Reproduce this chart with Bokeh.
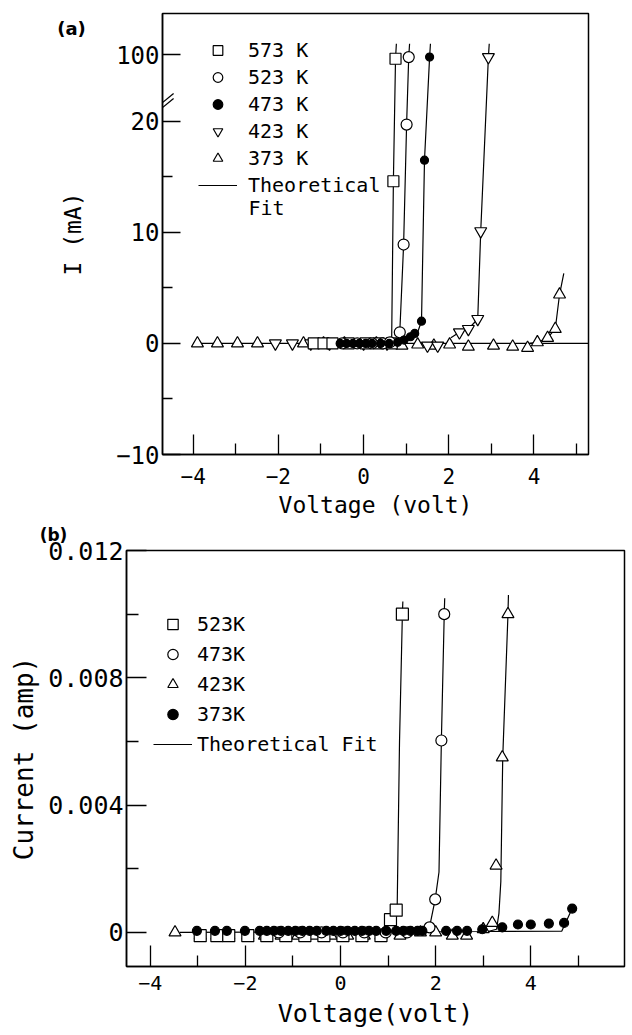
from bokeh.plotting import figure
from bokeh.models import (FixedTicker, CustomJSTickFormatter, Legend, LegendItem,
                          Label, Range1d, Arrow)
from bokeh.embed import file_html
from bokeh.resources import INLINE

MONO = "DejaVu Sans Mono"

# ---------------- panel (a): voltage (V) vs current (mA) ----------------
a_labels = ["573 K", "523 K", "473 K", "423 K", "373 K"]

a573_v = [-1.17, -0.94, -0.73, -0.35, 0.05, 0.35, 0.66, 0.70, 0.75]
a573_i = [0, 0, 0, 0, 0, 0, 0, 14.6, 95]

a523_v = [-0.50, -0.15, 0.20, 0.45, 0.62, 0.85, 0.94, 1.01, 1.06]
a523_i = [0, 0, 0, 0, 0.1, 1.0, 8.9, 19.7, 97]

a473_v = [-0.55, -0.40, -0.25, -0.10, 0.05, 0.20, 0.40, 0.60, 0.80, 0.95, 1.10, 1.20, 1.36, 1.43, 1.55]
a473_i = [0, 0, 0, 0, 0, 0, 0, 0, 0.1, 0.3, 0.6, 0.9, 2.0, 16.5, 97]

a423_v = [-2.07, -1.67, -1.24, -0.80, 0.00, 0.55, 1.50, 1.74, 2.25, 2.46, 2.68, 2.75, 2.93]
a423_i = [0, 0, 0, 0, 0, 0, -0.2, -0.2, 1.0, 1.3, 2.2, 10.1, 97]

a373_v = [-3.90, -3.43, -2.96, -2.49, -1.41, -0.94, -0.45, 0.30, 0.90, 1.27, 1.65,
          2.02, 2.46, 3.05, 3.50, 3.85, 4.08, 4.32, 4.50, 4.60]
a373_i = [0, 0, 0, 0, 0, 0, 0, 0, -0.2, -0.1, -0.2, -0.1, -0.3, -0.2, -0.3, -0.4,
          0.1, 0.5, 1.3, 4.4]

# theoretical fits, panel (a)
afit573_v = [0.62, 0.66, 0.70, 0.75, 0.77]
afit573_i = [0, 0.5, 14.6, 95, 113]
afit523_v = [0.75, 0.85, 0.94, 1.01, 1.06, 1.08]
afit523_i = [0, 1.0, 8.9, 19.7, 97, 113]
afit473_v = [1.10, 1.25, 1.36, 1.43, 1.55, 1.57]
afit473_i = [0.3, 0.8, 2.0, 16.5, 97, 113]
afit423_v = [2.05, 2.25, 2.46, 2.68, 2.75, 2.93, 2.95]
afit423_i = [0.5, 1.0, 1.3, 2.2, 10.1, 97, 113]
afit373_v = [3.90, 4.10, 4.32, 4.50, 4.60, 4.70]
afit373_i = [0, 0.1, 0.5, 1.3, 4.4, 6.3]
afitbase_v = [-4.0, 5.3]
afitbase_i = [0, 0]

a_yticks = [-10, 0, 10, 20]
a_yminor = [-5, 5, 15]
a_break_low = 20      # linear axis up to 20 mA, then broken
a_break_tick = 100    # value shown above the break
a_break_scale = 0.075

a_xticks = [-4, -2, 0, 2, 4]
a_xminor = [-3, -1, 1, 3, 5]

# ---------------- panel (b): voltage (V) vs current (A) ----------------
b_labels = ["523K", "473K", "423K", "373K"]

b523_v = [-2.95, -2.60, -2.35, -1.95, -1.55, -1.15, -0.75, -0.35, 0.05, 0.45, 0.85, 1.05, 1.17, 1.30]
b523_i = [-0.0001] * 11 + [0.0004, 0.0007, 0.0100]

b473_v = [-1.30, -0.85, -0.40, 0.05, 0.50, 0.95, 1.40, 1.87, 1.99, 2.12, 2.18]
b473_i = [0, 0, 0, 0, 0, 0, 0, 0.00016, 0.00104, 0.00603, 0.0100]

b423_v = [-3.48, -2.95, -2.60, -2.35, -1.95, -1.60, -1.25, -0.90, -0.55, -0.20, 0.15, 0.50,
          0.85, 1.25, 1.68, 2.00, 2.35, 2.65, 3.00, 3.19, 3.27, 3.40, 3.52]
b423_i = [0, -0.0001, -0.0001, -0.0001, -0.0001, -0.0001, -0.0001, -0.0001, -0.0001, -0.0001,
          -0.0001, -0.0001, -0.0001, -0.0001, 0.0, 0.0, -0.0001, -0.0001, 0.0001, 0.0003,
          0.0021, 0.0055, 0.0100]

b373_v = [-3.02, -2.64, -2.39, -2.01, -1.70, -1.55, -1.40, -1.25, -1.10, -0.95, -0.80, -0.65,
          -0.50, -0.30, -0.15, 0.00, 0.15, 0.30, 0.45, 0.60, 0.75, 0.96, 1.17, 1.32, 1.47,
          1.62, 1.72, 2.22, 2.45, 2.66, 2.98, 3.40, 3.73, 4.00, 4.38, 4.70, 4.87]
b373_i = [0.00005] * 30 + [0.0001, 0.00016, 0.00025, 0.00025, 0.00028, 0.0003, 0.00075]

bfit523_v = [0.90, 1.15, 1.19, 1.24, 1.30, 1.31]
bfit523_i = [0.0, 0.0001, 0.0007, 0.0060, 0.0100, 0.0104]
bfit473_v = [1.70, 1.87, 1.99, 2.07, 2.12, 2.18, 2.19]
bfit473_i = [0.0, 0.00016, 0.00104, 0.0019, 0.00603, 0.0100, 0.0105]
bfit423_v = [-3.38, 3.10, 3.28, 3.33, 3.37, 3.41, 3.52, 3.53]
bfit423_i = [0.0, 0.00003, 0.0001, 0.0006, 0.0016, 0.0055, 0.0100, 0.0106]
bfit373_v = [3.00, 4.65, 4.87]
bfit373_i = [0.00003, 0.00004, 0.00075]

b_yticks = [0, 0.004, 0.008, 0.012]
b_yminor = [0.002, 0.006, 0.010]
b_xticks = [-4, -2, 0, 2, 4, 6]
b_xminor = [-3, -1, 1, 3, 5]


def brk(vals):
    return [v if v <= a_break_low else a_break_low + (v - a_break_low) * a_break_scale for v in vals]


def style(p, tick_font, xtick_font, title_font_x, title_font_y):
    p.xgrid.visible = False
    p.ygrid.visible = False
    p.outline_line_color = "black"
    p.outline_line_width = 1.5
    p.background_fill_color = "white"
    p.border_fill_color = "white"
    for ax in (p.xaxis[0], p.yaxis[0]):
        ax.axis_line_width = 1.5
        ax.axis_line_color = "black"
        ax.major_tick_line_width = 1.3
        ax.minor_tick_line_width = 1.3
        ax.major_tick_line_color = "black"
        ax.minor_tick_line_color = "black"
        ax.major_tick_out = 0
        ax.minor_tick_out = 0
        ax.major_label_text_font = MONO
        ax.major_label_text_color = "black"
        ax.axis_label_text_font = MONO
        ax.axis_label_text_font_style = "normal"
        ax.axis_label_text_color = "black"
    p.yaxis[0].major_label_text_font_size = tick_font
    p.xaxis[0].major_label_text_font_size = xtick_font
    p.xaxis[0].axis_label_text_font_size = title_font_x
    p.yaxis[0].axis_label_text_font_size = title_font_y


neg_code = "return tick < 0 ? '\u2212' + (-tick) : '' + tick;"

# ================= figure (a) =================
pa = figure(frame_width=426, frame_height=441,
            min_border_left=162, min_border_right=44, min_border_top=13, min_border_bottom=70,
            x_range=Range1d(-4.72, 5.28), y_range=Range1d(-10, 29.7),
            title_location=None, output_backend="svg", toolbar_location=None)
style(pa, "24px", "21px", "23px", "23px")
pa.xaxis[0].ticker = FixedTicker(ticks=a_xticks, minor_ticks=a_xminor)
pa.yaxis[0].ticker = FixedTicker(ticks=a_yticks + brk([a_break_tick]), minor_ticks=a_yminor)
pa.xaxis[0].formatter = CustomJSTickFormatter(code=neg_code)
pa.yaxis[0].formatter = CustomJSTickFormatter(
    code="if (tick > %g) { return '%d'; } " % (a_break_low + 0.5, a_break_tick) + neg_code)
pa.xaxis[0].major_tick_in = 20
pa.xaxis[0].minor_tick_in = 11
pa.yaxis[0].major_tick_in = 18
pa.yaxis[0].minor_tick_in = 10
pa.xaxis[0].major_label_standoff = 13
pa.yaxis[0].major_label_standoff = 3
pa.xaxis[0].axis_label = "Voltage (volt)"
pa.xaxis[0].axis_label_standoff = 5
pa.yaxis[0].axis_label = "I (mA)"
pa.yaxis[0].axis_label_standoff = 27

LW = 1.2
rb = pa.line(afitbase_v, brk(afitbase_i), line_color="black", line_width=LW)
for fv, fi in [(afit573_v, afit573_i), (afit523_v, afit523_i), (afit473_v, afit473_i),
               (afit423_v, afit423_i), (afit373_v, afit373_i)]:
    pa.line(fv, brk(fi), line_color="black", line_width=LW)

ra373 = pa.scatter(a373_v, brk(a373_i), marker="triangle", size=12, line_color="black",
                   fill_color="white", line_width=LW)
ra423 = pa.scatter(a423_v, brk(a423_i), marker="inverted_triangle", size=12, line_color="black",
                   fill_color="white", line_width=LW)
ra573 = pa.scatter(a573_v, brk(a573_i), marker="square", size=11, line_color="black",
                   fill_color="white", line_width=LW)
ra523 = pa.scatter(a523_v, brk(a523_i), marker="circle", size=11, line_color="black",
                   fill_color="white", line_width=LW)
ra473 = pa.scatter(a473_v, brk(a473_i), marker="circle", size=8, line_color="black",
                   fill_color="black", line_width=LW)

leg_a = Legend(items=[LegendItem(label=a_labels[0], renderers=[ra573]),
                      LegendItem(label=a_labels[1], renderers=[ra523]),
                      LegendItem(label=a_labels[2], renderers=[ra473]),
                      LegendItem(label=a_labels[3], renderers=[ra423]),
                      LegendItem(label=a_labels[4], renderers=[ra373]),
                      LegendItem(label="Theoretical", renderers=[rb])],
               location=(36, 257), glyph_width=39, glyph_height=24, label_height=24,
               spacing=3, padding=0, margin=0, label_standoff=11,
               border_line_alpha=0, background_fill_alpha=0,
               label_text_font=MONO, label_text_font_size="20px", label_text_color="black")
pa.add_layout(leg_a)
pa.add_layout(Label(x=86, y=247, x_units="screen", y_units="screen", text="Fit",
                    text_font=MONO, text_font_size="20px", text_baseline="middle",
                    text_align="left", text_color="black"))

# panel tag and axis-break marks sit in the left side panel (outside the y axis)
tag_a = Label(x=43, y=426, x_units="screen", y_units="screen", text="(a)",
              text_font="DejaVu Sans", text_font_style="bold", text_font_size="18px",
              text_baseline="middle", text_align="center", text_color="black")
breaks = [Arrow(end=None, x_start=-4.84, y_start=21.3 + dy, x_end=-4.46, y_end=22.5 + dy,
                line_color="black", line_width=1.3) for dy in (0.0, -0.45)]
pa.left = list(pa.left) + [tag_a] + breaks

# ================= figure (b) =================
pb = figure(frame_width=498, frame_height=416,
            min_border_left=126, min_border_right=8, min_border_top=26, min_border_bottom=67,
            x_range=Range1d(-4.5, 5.97), y_range=Range1d(-0.00107, 0.012),
            title_location=None, output_backend="svg", toolbar_location=None)
style(pb, "25px", "20px", "25px", "26px")
pb.xaxis[0].ticker = FixedTicker(ticks=b_xticks, minor_ticks=b_xminor)
pb.yaxis[0].ticker = FixedTicker(ticks=b_yticks, minor_ticks=b_yminor)
pb.xaxis[0].formatter = CustomJSTickFormatter(code=neg_code)
pb.yaxis[0].formatter = CustomJSTickFormatter(code="return tick == 0 ? '0' : tick.toFixed(3);")
pb.xaxis[0].major_tick_in = 21
pb.xaxis[0].minor_tick_in = 11
pb.yaxis[0].major_tick_in = 20
pb.yaxis[0].minor_tick_in = 12
pb.xaxis[0].major_label_standoff = 9
pb.yaxis[0].major_label_standoff = 3
pb.xaxis[0].axis_label = "Voltage(volt)"
pb.xaxis[0].axis_label_standoff = 6
pb.yaxis[0].axis_label = "Current (amp)"
pb.yaxis[0].axis_label_standoff = 6

fits_b = []
for fv, fi in [(bfit423_v, bfit423_i), (bfit373_v, bfit373_i), (bfit523_v, bfit523_i),
               (bfit473_v, bfit473_i)]:
    fits_b.append(pb.line(fv, fi, line_color="black", line_width=LW))

rb423 = pb.scatter(b423_v, b423_i, marker="triangle", size=12, line_color="black",
                   fill_color="white", line_width=LW)
rb523 = pb.scatter(b523_v, b523_i, marker="square", size=12, line_color="black",
                   fill_color="white", line_width=LW)
rb473 = pb.scatter(b473_v, b473_i, marker="circle", size=11, line_color="black",
                   fill_color="white", line_width=LW)
rb373 = pb.scatter(b373_v, b373_i, marker="circle", size=9, line_color="black",
                   fill_color="black", line_width=LW)

leg_b = Legend(items=[LegendItem(label=b_labels[0], renderers=[rb523]),
                      LegendItem(label=b_labels[1], renderers=[rb473]),
                      LegendItem(label=b_labels[2], renderers=[rb423]),
                      LegendItem(label=b_labels[3], renderers=[rb373]),
                      LegendItem(label="Theoretical Fit", renderers=[fits_b[0]])],
               location=(27, 209), glyph_width=39, glyph_height=26, label_height=26,
               spacing=4, padding=0, margin=0, label_standoff=5,
               border_line_alpha=0, background_fill_alpha=0,
               label_text_font=MONO, label_text_font_size="20px", label_text_color="black")
pb.add_layout(leg_b)
tag_b = Label(x=-73, y=16, x_units="screen", y_units="screen", text="(b)",
              text_font="DejaVu Sans", text_font_style="bold", text_font_size="17px",
              text_baseline="middle", text_align="center", text_color="black")
pb.above = list(pb.above) + [tag_b]

open("out.html", "w").write(file_html([pa, pb], INLINE))
